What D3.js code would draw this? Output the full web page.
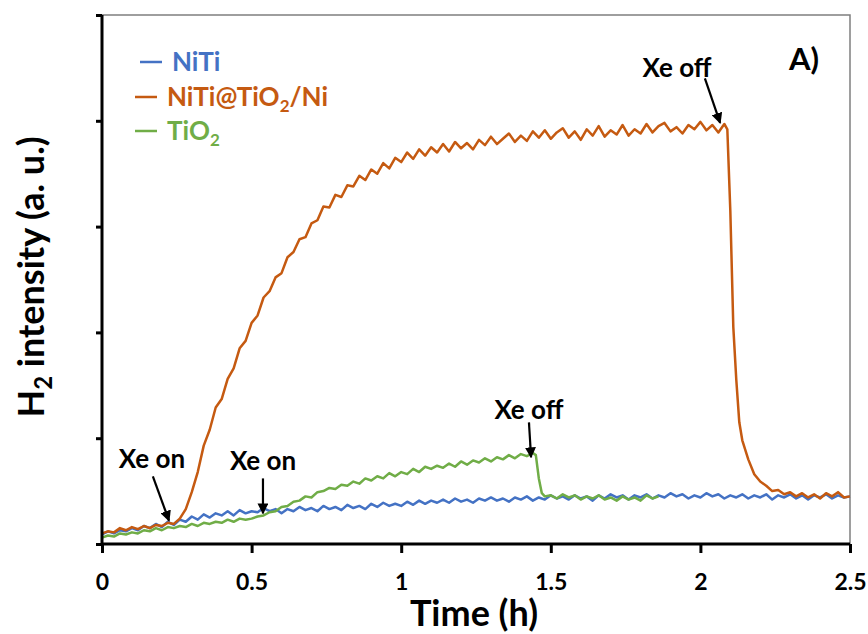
<!DOCTYPE html>
<html>
<head>
<meta charset="utf-8">
<script src="https://cdn.jsdelivr.net/npm/d3@7"></script>
<style>
body { margin: 0; background: #fff; }
svg text { font-family: Lato, "Open Sans", sans-serif; font-weight: bold; }
</style>
</head>
<body>
<svg id="chart" width="868" height="634"></svg>
<script>
// H2 signal vs time (time in h, intensity in a.u.)
var xTicks = [0, 0.5, 1, 1.5, 2, 2.5];
var yTicks = [0, 1, 2, 3, 4, 5];

var niti = [[0,0.09],[0.02,0.12],[0.04,0.10],[0.06,0.13],[0.08,0.12],[0.10,0.15],[0.12,0.13],[0.14,0.17],[0.16,0.15],[0.18,0.19],
	[0.20,0.16],[0.22,0.21],[0.24,0.18],[0.26,0.23],[0.28,0.21],[0.30,0.26],[0.32,0.23],[0.34,0.28],[0.36,0.25],[0.38,0.29],
	[0.40,0.27],[0.42,0.31],[0.44,0.27],[0.46,0.32],[0.48,0.29],[0.50,0.31],[0.52,0.30],[0.54,0.34],[0.56,0.31],[0.58,0.33],
	[0.60,0.29],[0.62,0.33],[0.64,0.31],[0.66,0.35],[0.68,0.32],[0.70,0.34],[0.72,0.31],[0.74,0.36],[0.76,0.33],[0.78,0.35],
	[0.80,0.32],[0.82,0.37],[0.84,0.34],[0.86,0.36],[0.88,0.33],[0.90,0.38],[0.92,0.35],[0.94,0.39],[0.96,0.36],[0.98,0.38],
	[1.00,0.36],[1.02,0.40],[1.04,0.37],[1.06,0.41],[1.08,0.38],[1.10,0.41],[1.12,0.39],[1.14,0.42],[1.16,0.39],[1.18,0.43],
	[1.20,0.40],[1.22,0.42],[1.24,0.39],[1.26,0.43],[1.28,0.41],[1.30,0.44],[1.32,0.41],[1.34,0.43],[1.36,0.40],[1.38,0.44],
	[1.40,0.42],[1.42,0.45],[1.44,0.41],[1.46,0.44],[1.48,0.42],[1.50,0.46],[1.52,0.43],[1.54,0.45],[1.56,0.42],[1.58,0.46],
	[1.60,0.43],[1.62,0.45],[1.64,0.41],[1.66,0.46],[1.68,0.43],[1.70,0.47],[1.72,0.44],[1.74,0.46],[1.76,0.42],[1.78,0.46],
	[1.80,0.44],[1.82,0.47],[1.84,0.43],[1.86,0.46],[1.88,0.44],[1.90,0.48],[1.92,0.45],[1.94,0.47],[1.96,0.43],[1.98,0.46],
	[2.00,0.44],[2.02,0.48],[2.04,0.45],[2.06,0.47],[2.08,0.43],[2.10,0.46],[2.12,0.44],[2.14,0.47],[2.16,0.43],[2.18,0.46],
	[2.20,0.44],[2.22,0.47],[2.24,0.42],[2.26,0.46],[2.28,0.44],[2.30,0.47],[2.32,0.43],[2.34,0.46],[2.36,0.42],[2.38,0.46],
	[2.40,0.44],[2.42,0.47],[2.44,0.43],[2.46,0.46],[2.48,0.44],[2.50,0.45]];

var nitiTiO2Ni = [[0,0.10],[0.02,0.12],[0.04,0.11],[0.06,0.15],[0.08,0.13],[0.10,0.16],[0.12,0.14],[0.14,0.17],[0.16,0.15],[0.18,0.18],
	[0.20,0.17],[0.22,0.20],[0.24,0.19],[0.26,0.24],[0.28,0.33],[0.30,0.49],[0.32,0.68],[0.34,0.93],[0.36,1.08],[0.38,1.29],
	[0.40,1.37],[0.42,1.56],[0.44,1.66],[0.46,1.85],[0.48,1.92],[0.50,2.09],[0.52,2.16],[0.54,2.33],[0.56,2.39],[0.58,2.52],
	[0.60,2.56],[0.62,2.71],[0.64,2.76],[0.66,2.88],[0.68,2.90],[0.70,3.03],[0.72,3.06],[0.74,3.19],[0.76,3.18],[0.78,3.30],
	[0.80,3.28],[0.82,3.39],[0.84,3.38],[0.86,3.48],[0.88,3.44],[0.90,3.54],[0.92,3.50],[0.94,3.60],[0.96,3.55],[0.98,3.65],
	[1.00,3.61],[1.02,3.70],[1.04,3.64],[1.06,3.73],[1.08,3.67],[1.10,3.75],[1.12,3.70],[1.14,3.78],[1.16,3.71],[1.18,3.80],
	[1.20,3.74],[1.22,3.79],[1.24,3.73],[1.26,3.82],[1.28,3.77],[1.30,3.85],[1.32,3.78],[1.34,3.83],[1.36,3.88],[1.38,3.80],
	[1.40,3.86],[1.42,3.81],[1.44,3.90],[1.46,3.84],[1.48,3.91],[1.50,3.83],[1.52,3.89],[1.54,3.93],[1.56,3.84],[1.58,3.90],
	[1.60,3.82],[1.62,3.92],[1.64,3.86],[1.66,3.95],[1.68,3.85],[1.70,3.91],[1.72,3.87],[1.74,3.96],[1.76,3.86],[1.78,3.92],
	[1.80,3.88],[1.82,3.97],[1.84,3.89],[1.86,3.95],[1.88,3.98],[1.90,3.90],[1.92,3.94],[1.94,3.88],[1.96,3.96],[1.98,3.92],
	[2.00,3.99],[2.02,3.91],[2.04,3.96],[2.06,3.89],[2.08,3.97],[2.09,3.92],[2.10,3.15],[2.11,2.05],[2.12,1.55],[2.13,1.15],
	[2.14,0.98],[2.16,0.80],[2.18,0.66],[2.20,0.59],[2.22,0.55],[2.24,0.50],[2.26,0.51],[2.28,0.47],[2.30,0.49],[2.32,0.45],
	[2.34,0.48],[2.36,0.44],[2.38,0.47],[2.40,0.43],[2.42,0.48],[2.44,0.45],[2.46,0.49],[2.48,0.44],[2.50,0.45]];

var tio2 = [[0,0.06],[0.02,0.08],[0.04,0.07],[0.06,0.10],[0.08,0.09],[0.10,0.11],[0.12,0.10],[0.14,0.13],[0.16,0.12],[0.18,0.15],
	[0.20,0.13],[0.22,0.16],[0.24,0.15],[0.26,0.17],[0.28,0.16],[0.30,0.19],[0.32,0.17],[0.34,0.20],[0.36,0.19],[0.38,0.21],
	[0.40,0.20],[0.42,0.23],[0.44,0.21],[0.46,0.24],[0.48,0.23],[0.50,0.24],[0.52,0.26],[0.54,0.27],[0.56,0.30],[0.58,0.31],
	[0.60,0.35],[0.62,0.36],[0.64,0.40],[0.66,0.41],[0.68,0.45],[0.70,0.44],[0.72,0.49],[0.74,0.50],[0.76,0.53],[0.78,0.52],
	[0.80,0.56],[0.82,0.55],[0.84,0.59],[0.86,0.57],[0.88,0.62],[0.90,0.60],[0.92,0.64],[0.94,0.62],[0.96,0.67],[0.98,0.64],
	[1.00,0.68],[1.02,0.66],[1.04,0.71],[1.06,0.68],[1.08,0.73],[1.10,0.71],[1.12,0.74],[1.14,0.72],[1.16,0.76],[1.18,0.73],
	[1.20,0.78],[1.22,0.75],[1.24,0.79],[1.26,0.77],[1.28,0.81],[1.30,0.78],[1.32,0.82],[1.34,0.80],[1.36,0.84],[1.38,0.81],
	[1.40,0.85],[1.42,0.83],[1.44,0.86],[1.45,0.84],[1.46,0.62],[1.47,0.48],[1.48,0.45],[1.50,0.46],[1.52,0.43],[1.54,0.47],
	[1.56,0.44],[1.58,0.46],[1.60,0.42],[1.62,0.45],[1.64,0.43],[1.66,0.46],[1.68,0.42],[1.70,0.44],[1.72,0.41],[1.74,0.45],
	[1.76,0.42],[1.78,0.44],[1.80,0.41],[1.82,0.46],[1.84,0.43],[1.86,0.45]];

var seriesNames = ["NiTi", "NiTi@TiO2/Ni", "TiO2"];
var seriesColors = ["#4472C4", "#C55A11", "#70AD47"];

// Xe lamp annotations: label position and arrow from/to, in data units
var notes = [
	{ text: "Xe on",  tx: 0.167, ty: 0.72, x1: 0.170, y1: 0.64, x2: 0.224, y2: 0.22 },
	{ text: "Xe on",  tx: 0.538, ty: 0.70, x1: 0.538, y1: 0.62, x2: 0.538, y2: 0.29 },
	{ text: "Xe off", tx: 1.427, ty: 1.18, x1: 1.427, y1: 1.15, x2: 1.434, y2: 0.82 },
	{ text: "Xe off", tx: 1.922, ty: 4.41, x1: 2.015, y1: 4.40, x2: 2.066, y2: 3.98 }
];

var svg = d3.select("#chart");
var plotLeft = 102, plotRight = 850, plotTop = 15, plotBottom = 544;

var x = d3.scaleLinear().domain([0, 2.5]).range([plotLeft, plotRight]);
var y = d3.scaleLinear().domain([0, 5]).range([plotBottom, plotTop]);

// thin grey frame on top / right
svg.append("path")
	.attr("d", "M" + plotLeft + "," + plotTop + "H" + plotRight + "V" + plotBottom)
	.attr("fill", "none")
	.attr("stroke", "#7f7f7f")
	.attr("stroke-width", 1.5);

var line = d3.line()
	.x(function(d) { return x(d[0]); })
	.y(function(d) { return y(d[1]); });

[niti, nitiTiO2Ni, tio2].forEach(function(data, i) {
	svg.append("path")
		.datum(data)
		.attr("d", line)
		.attr("fill", "none")
		.attr("stroke", seriesColors[i])
		.attr("stroke-width", 2.5)
		.attr("stroke-linejoin", "round");
});

// axes
var xAxis = svg.append("g")
	.attr("transform", "translate(0," + plotBottom + ")")
	.call(d3.axisBottom(x).tickValues(xTicks).tickSize(9).tickPadding(21)
		.tickFormat(function(d) { return d; }));
var yAxis = svg.append("g")
	.attr("transform", "translate(" + plotLeft + ",0)")
	.call(d3.axisLeft(y).tickValues(yTicks).tickSize(6).tickFormat(""));

xAxis.select(".domain").attr("d", "M" + plotLeft + ",0H" + plotRight);
yAxis.select(".domain").attr("d", "M0," + plotTop + "V" + plotBottom);
[xAxis, yAxis].forEach(function(g) {
	g.select(".domain").attr("stroke", "#000").attr("stroke-width", 3);
	g.selectAll(".tick line").attr("stroke", "#000").attr("stroke-width", 3);
});
xAxis.selectAll(".tick text")
	.attr("fill", "#000")
	.style("font-size", "23px");

svg.append("text")
	.attr("x", 474)
	.attr("y", 626)
	.attr("text-anchor", "middle")
	.style("font-size", "36px")
	.text("Time (h)");

var yTitle = svg.append("text")
	.attr("transform", "translate(44,277) rotate(-90)")
	.attr("text-anchor", "middle")
	.style("font-size", "36px");
yTitle.append("tspan").text("H");
yTitle.append("tspan").attr("dy", 8).style("font-size", "24px").text("2");
yTitle.append("tspan").attr("dy", -8).text(" intensity (a. u.)");

// legend
var legendY = [62, 97, 131];
var legendX = [140, 135, 135];
seriesNames.forEach(function(name, i) {
	svg.append("line")
		.attr("x1", legendX[i]).attr("x2", legendX[i] + 22)
		.attr("y1", legendY[i]).attr("y2", legendY[i])
		.attr("stroke", seriesColors[i])
		.attr("stroke-width", 2.5);
	var t = svg.append("text")
		.attr("x", legendX[i] + 32)
		.attr("y", legendY[i] + 9)
		.attr("fill", seriesColors[i])
		.style("font-size", "26px");
	var parts = name.split("2");
	t.append("tspan").text(parts[0]);
	if (parts.length > 1) {
		t.append("tspan").attr("dy", 6).style("font-size", "17px").text("2");
		t.append("tspan").attr("dy", -6).text(parts[1]);
	}
});

svg.append("text")
	.attr("x", 789)
	.attr("y", 70)
	.style("font-size", "31px")
	.text("A)");

// arrows
svg.append("defs").append("marker")
	.attr("id", "head")
	.attr("viewBox", "0 0 10 10")
	.attr("refX", 9).attr("refY", 5)
	.attr("markerWidth", 5).attr("markerHeight", 5)
	.attr("orient", "auto")
	.append("path")
	.attr("d", "M0,0L10,5L0,10Z")
	.attr("fill", "#000");

notes.forEach(function(n) {
	svg.append("text")
		.attr("x", x(n.tx))
		.attr("y", y(n.ty))
		.attr("text-anchor", "middle")
		.style("font-size", "26px")
		.text(n.text);
	svg.append("line")
		.attr("x1", x(n.x1)).attr("y1", y(n.y1))
		.attr("x2", x(n.x2)).attr("y2", y(n.y2))
		.attr("stroke", "#000")
		.attr("stroke-width", 2.2)
		.attr("marker-end", "url(#head)");
});
</script>
</body>
</html>
